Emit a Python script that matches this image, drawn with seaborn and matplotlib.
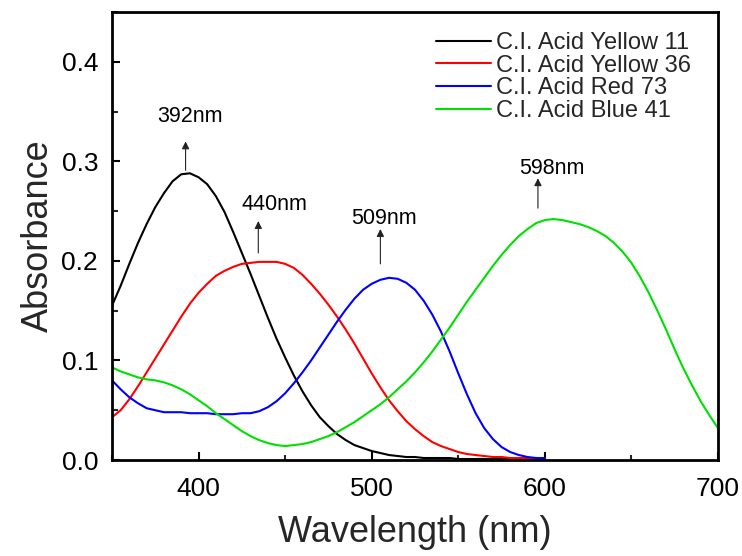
import numpy as np
import pandas as pd
import matplotlib
matplotlib.use("Agg")
import matplotlib.pyplot as plt
import seaborn as sns
from matplotlib.ticker import MultipleLocator

# ---------------- data ----------------
wl_short = [350, 355, 360, 365, 370, 375, 380, 385, 390, 395, 400, 405, 410, 415,
            420, 425, 430, 435, 440, 445, 450, 455, 460, 465, 470, 475, 480, 485,
            490, 495, 500, 505, 510, 515, 520, 525, 530, 535, 540, 545, 550, 555,
            560, 565, 570, 575, 580, 585, 590, 595, 600]

yellow11 = [0.155, 0.175, 0.197, 0.218, 0.237, 0.254, 0.268, 0.280, 0.287, 0.288,
            0.284, 0.277, 0.265, 0.249, 0.229, 0.208, 0.187, 0.165, 0.143, 0.122,
            0.103, 0.085, 0.069, 0.055, 0.043, 0.034, 0.026, 0.020, 0.015, 0.012,
            0.009, 0.007, 0.005, 0.004, 0.003, 0.003, 0.002, 0.002, 0.002, 0.002,
            0.001, 0.001, 0.001, 0.001, 0.001, 0.001, 0.001, 0.001, 0.001, 0.001,
            0.001]

yellow36 = [0.043, 0.050, 0.061, 0.074, 0.088, 0.102, 0.116, 0.130, 0.144, 0.157,
            0.168, 0.177, 0.185, 0.190, 0.194, 0.197, 0.198, 0.199, 0.199, 0.199,
            0.197, 0.193, 0.186, 0.177, 0.167, 0.156, 0.144, 0.131, 0.117, 0.102,
            0.087, 0.073, 0.060, 0.049, 0.039, 0.031, 0.024, 0.018, 0.014, 0.011,
            0.008, 0.006, 0.005, 0.004, 0.003, 0.003, 0.002, 0.002, 0.002, 0.001,
            0.001]

red73 = [0.080, 0.071, 0.063, 0.057, 0.052, 0.050, 0.048, 0.048, 0.048, 0.047,
         0.047, 0.047, 0.046, 0.046, 0.046, 0.047, 0.047, 0.049, 0.053, 0.059,
         0.067, 0.077, 0.088, 0.100, 0.113, 0.126, 0.139, 0.151, 0.162, 0.171,
         0.177, 0.181, 0.183, 0.182, 0.178, 0.171, 0.160, 0.146, 0.129, 0.109,
         0.087, 0.066, 0.047, 0.032, 0.021, 0.013, 0.008, 0.005, 0.003, 0.002,
         0.002]

wl_long = [350, 355, 360, 365, 370, 375, 380, 385, 390, 395, 400, 405, 410, 415,
           420, 425, 430, 435, 440, 445, 450, 455, 460, 465, 470, 475, 480, 485,
           490, 495, 500, 505, 510, 515, 520, 525, 530, 535, 540, 545, 550, 555,
           560, 565, 570, 575, 580, 585, 590, 595, 600, 605, 610, 615, 620, 625,
           630, 635, 640, 645, 650, 655, 660, 665, 670, 675, 680, 685, 690, 695,
           700]

blue41 = [0.093, 0.089, 0.086, 0.083, 0.081, 0.080, 0.078, 0.075, 0.071, 0.066,
          0.060, 0.054, 0.047, 0.041, 0.035, 0.029, 0.024, 0.020, 0.017, 0.015,
          0.014, 0.015, 0.016, 0.018, 0.021, 0.024, 0.028, 0.033, 0.038, 0.044,
          0.050, 0.056, 0.063, 0.071, 0.079, 0.088, 0.098, 0.109, 0.121, 0.133,
          0.146, 0.159, 0.171, 0.183, 0.195, 0.206, 0.216, 0.225, 0.232, 0.238,
          0.241, 0.242, 0.241, 0.239, 0.237, 0.234, 0.230, 0.225, 0.218, 0.209,
          0.198, 0.184, 0.168, 0.150, 0.131, 0.111, 0.092, 0.075, 0.059, 0.045,
          0.032]

series_names = ["C.I. Acid Yellow 11", "C.I. Acid Yellow 36",
                "C.I. Acid Red 73", "C.I. Acid Blue 41"]
series_colors = ["#000000", "#ff0000", "#0000ff", "#00e000"]

peak_labels = ["392nm", "440nm", "509nm", "598nm"]
peak_arrow_x = [392.5, 434.5, 505.0, 596.0]
peak_arrow_y0 = [0.291, 0.208, 0.197, 0.253]
peak_arrow_y1 = [0.320, 0.240, 0.232, 0.283]
peak_text_x = [395, 444, 507, 604]
peak_text_y = [0.345, 0.257, 0.243, 0.293]

# ---------------- build long-form table ----------------
frames = []
for name, xs, ys in [(series_names[0], wl_short, yellow11),
                     (series_names[1], wl_short, yellow36),
                     (series_names[2], wl_short, red73),
                     (series_names[3], wl_long, blue41)]:
    frames.append(pd.DataFrame({"Wavelength": xs, "Absorbance": ys, "Dye": name}))
df = pd.concat(frames, ignore_index=True)

# ---------------- style ----------------
sns.set_theme(style="ticks")
plt.rcParams["font.family"] = ["Liberation Sans", "DejaVu Sans"]

fig = plt.figure(figsize=(7.42, 5.56), dpi=100)
ax = fig.add_axes([112 / 742, 1 - 460 / 556, (718 - 112) / 742, (460 - 12) / 556])

sns.lineplot(data=df, x="Wavelength", y="Absorbance", hue="Dye",
             hue_order=series_names, palette=series_colors,
             estimator=None, linewidth=1.5, ax=ax, legend=True)

ax.set_xlim(350, 700)
ax.set_ylim(0, 0.45)
ax.xaxis.set_major_locator(MultipleLocator(100))
ax.xaxis.set_minor_locator(MultipleLocator(50))
ax.yaxis.set_major_locator(MultipleLocator(0.1))
ax.yaxis.set_minor_locator(MultipleLocator(0.05))
ax.set_xticks([400, 500, 600, 700])
ax.set_yticks([0.0, 0.1, 0.2, 0.3, 0.4])
ax.set_yticklabels(["0.0", "0.1", "0.2", "0.3", "0.4"])

ax.tick_params(which="major", direction="in", length=6, width=1.5,
               labelsize=19, colors="black")
ax.tick_params(axis="x", which="major", pad=12)
ax.tick_params(axis="y", which="major", pad=10)
ax.tick_params(which="minor", direction="in", length=3.5, width=1.5)
ax.tick_params(axis="y", which="minor", length=4)
for side in ["left", "right", "top", "bottom"]:
    ax.spines[side].set_visible(True)
    ax.spines[side].set_linewidth(2.0)
    ax.spines[side].set_color("black")

ax.set_xlabel("Wavelength (nm)", fontsize=26, labelpad=10)
ax.set_ylabel("Absorbance", fontsize=26, labelpad=4)

# peak annotations
for lab, ax_x, y0, y1, tx, ty in zip(peak_labels, peak_arrow_x, peak_arrow_y0,
                                     peak_arrow_y1, peak_text_x, peak_text_y):
    ax.annotate("", xy=(ax_x, y1), xytext=(ax_x, y0),
                arrowprops=dict(arrowstyle="-|>", color="#222222", lw=0.8,
                                mutation_scale=11, shrinkA=0, shrinkB=0))
    ax.text(tx, ty, lab, fontsize=15.5, ha="center", va="center", color="black")

# legend
handles, labels = ax.get_legend_handles_labels()
leg = ax.legend(handles, labels, loc="upper left",
                bbox_to_anchor=((436 - 112) / 606, (460 - 32) / 448),
                frameon=False, fontsize=17, handlelength=2.35,
                handletextpad=0.2, labelspacing=0.03, borderpad=0,
                borderaxespad=0)
for line in leg.get_lines():
    line.set_linewidth(1.5)

fig.savefig("out.png", dpi=100)
